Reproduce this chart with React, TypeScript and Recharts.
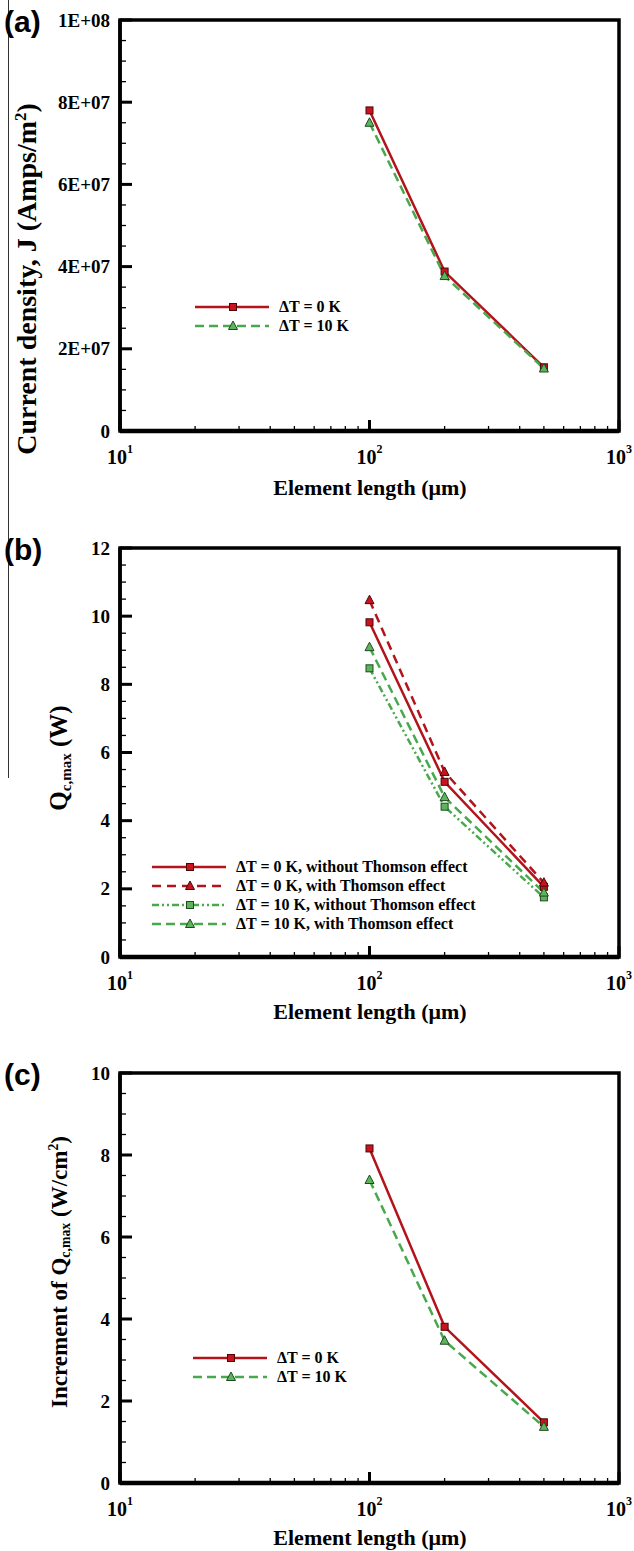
import React from 'react';
import { LineChart, Line, XAxis, YAxis, ReferenceArea } from 'recharts';

// element length (um) shared by every panel
const elementLength = [100, 200, 500];

// (a) current density, A/m^2
const currentDt0 = [7.8e7, 3.88e7, 1.55e7];
const currentDt10 = [7.5e7, 3.77e7, 1.52e7];

// (b) Qc,max (W)
const qmaxDt0Without = [9.82, 5.14, 2.06];
const qmaxDt0With = [10.47, 5.43, 2.18];
const qmaxDt10Without = [8.47, 4.41, 1.75];
const qmaxDt10With = [9.09, 4.69, 1.89];

// (c) increment of Qc,max (W/cm^2)
const incrementDt0 = [8.16, 3.81, 1.48];
const incrementDt10 = [7.39, 3.47, 1.37];

const xTicks = [10, 20, 30, 40, 50, 60, 70, 80, 90, 100, 200, 300, 400, 500, 600, 700, 800, 900, 1000];
const xMajorTicks = [10, 100, 1000];
const xTickExponents = ['1', '2', '3'];

const currentTicks = [0, 5e6, 1e7, 1.5e7, 2e7, 2.5e7, 3e7, 3.5e7, 4e7, 4.5e7, 5e7, 5.5e7, 6e7, 6.5e7, 7e7, 7.5e7, 8e7, 8.5e7, 9e7, 9.5e7, 1e8];
const currentMajorTicks = [0, 2e7, 4e7, 6e7, 8e7, 1e8];
const currentTickLabels = ['0', '2E+07', '4E+07', '6E+07', '8E+07', '1E+08'];

const qmaxTicks = [0, 0.5, 1, 1.5, 2, 2.5, 3, 3.5, 4, 4.5, 5, 5.5, 6, 6.5, 7, 7.5, 8, 8.5, 9, 9.5, 10, 10.5, 11, 11.5, 12];
const qmaxMajorTicks = [0, 2, 4, 6, 8, 10, 12];
const qmaxTickLabels = ['0', '2', '4', '6', '8', '10', '12'];

const incrementTicks = [0, 0.5, 1, 1.5, 2, 2.5, 3, 3.5, 4, 4.5, 5, 5.5, 6, 6.5, 7, 7.5, 8, 8.5, 9, 9.5, 10];
const incrementMajorTicks = [0, 2, 4, 6, 8, 10];
const incrementTickLabels = ['0', '2', '4', '6', '8', '10'];

const SERIF = "'Liberation Serif', 'Times New Roman', serif";
const RED = '#b3141c';
const RED_FILL = '#c8141e';
const GREEN = '#48a84c';
const GREEN_FILL = '#5cb45c';

type Shape = 'square' | 'triangle';
type Series = { key: string; name: string; color: string; fill: string; dash?: string; shape: Shape; values: number[] };

function Marker({ shape, cx, cy, fill }: { shape: Shape; cx: number; cy: number; fill: string }) {
  const edge = fill === RED_FILL ? '#4a0808' : '#1f4a1f';
  if (shape === 'square') {
    return <rect x={cx - 3.5} y={cy - 3.5} width={7} height={7} fill={fill} stroke={edge} strokeWidth={1} />;
  }
  return (
    <polygon
      points={`${cx},${cy - 5} ${cx + 4.5},${cy + 3.5} ${cx - 4.5},${cy + 3.5}`}
      fill={fill}
      stroke={edge}
      strokeWidth={1}
    />
  );
}

const makeYTick = (majors: number[], labels: string[]) => (p: any) => {
  const v = p.payload.value;
  const i = majors.indexOf(v);
  return (
    <g key={`y-${v}`}>
      <line x1={p.x} x2={p.x + (i >= 0 ? 12 : 6)} y1={p.y} y2={p.y} stroke="#000" strokeWidth={i >= 0 ? 3 : 1.3} />
      {i >= 0 && (
        <text x={p.x - 10} y={p.y} textAnchor="end" dominantBaseline="central" fontFamily={SERIF} fontWeight="bold" fontSize={19} fill="#000">
          {labels[i]}
        </text>
      )}
    </g>
  );
};

const XTick = (p: any) => {
  const v = p.payload.value;
  const i = xMajorTicks.indexOf(v);
  return (
    <g key={`x-${v}`}>
      <line x1={p.x} x2={p.x} y1={p.y} y2={p.y - (i >= 0 ? 11 : 5)} stroke="#000" strokeWidth={i >= 0 ? 3 : 1.3} />
      {i >= 0 && (
        <text x={p.x} y={p.y + 26} textAnchor="middle" dominantBaseline="central" fontFamily={SERIF} fontWeight="bold" fontSize={20} fill="#000">
          10
          <tspan dy={-8} fontSize={12}>{xTickExponents[i]}</tspan>
        </text>
      )}
    </g>
  );
};

interface PanelProps {
  top: number;
  plotTop: number;
  plotBottom: number;
  series: Series[];
  yMax: number;
  yTicks: number[];
  yMajor: number[];
  yLabels: string[];
  legendLeft: number;
  legendTop: number;
  legendGap: number;
  panelLabel: string;
  panelLabelY: number;
  yTitle: React.ReactNode;
  yTitleX: number;
  yTitleY: number;
  yTitleSize: number;
  xTitleY: number;
}

function Panel(props: PanelProps) {
  const { top, plotTop, plotBottom, series, yMax } = props;
  const data = elementLength.map((x, i) => {
    const row: Record<string, number> = { x };
    series.forEach(s => { row[s.key] = s.values[i]; });
    return row;
  });
  const xAxisHeight = 60;

  return (
    <>
      <div style={{ position: 'absolute', left: 0, top }}>
        <LineChart
          width={634}
          height={plotBottom - top + xAxisHeight}
          data={data}
          margin={{ top: plotTop - top, right: 15, bottom: 0, left: 0 }}
        >
          <ReferenceArea x1={10} x2={1000} y1={0} y2={yMax} fill="#fff" fillOpacity={0} stroke="#000" strokeWidth={3.5} />
          <XAxis
            type="number"
            dataKey="x"
            scale="log"
            domain={[10, 1000]}
            allowDataOverflow
            ticks={xTicks}
            interval={0}
            tickSize={0}
            tickMargin={0}
            tickLine={false}
            tick={XTick}
            height={xAxisHeight}
            axisLine={{ stroke: '#000', strokeWidth: 4.5 }}
          />
          <YAxis
            type="number"
            domain={[0, yMax]}
            allowDataOverflow
            ticks={props.yTicks}
            interval={0}
            tickSize={0}
            tickMargin={0}
            tickLine={false}
            tick={makeYTick(props.yMajor, props.yLabels)}
            width={120}
            axisLine={{ stroke: '#000', strokeWidth: 3.5 }}
          />
          {series.map(s => (
            <Line
              key={s.key}
              type="linear"
              dataKey={s.key}
              stroke={s.color}
              strokeWidth={2.5}
              strokeDasharray={s.dash}
              isAnimationActive={false}
              dot={(d: any) => <Marker key={`${s.key}-${d.index}`} shape={s.shape} cx={d.cx} cy={d.cy} fill={s.fill} />}
              activeDot={false}
            />
          ))}
        </LineChart>
      </div>

      {/* legend */}
      <div style={{ position: 'absolute', left: props.legendLeft, top: props.legendTop - 10 }}>
        {series.map(s => (
          <div key={s.key} style={{ display: 'flex', alignItems: 'center', height: props.legendGap }}>
            <svg width={74} height={14} style={{ display: 'block' }}>
              <line x1={0} x2={74} y1={7} y2={7} stroke={s.color} strokeWidth={2.5} strokeDasharray={s.dash} />
              <Marker shape={s.shape} cx={38} cy={7} fill={s.fill} />
            </svg>
            <span style={{ marginLeft: 10, fontFamily: SERIF, fontWeight: 'bold', fontSize: 16, whiteSpace: 'nowrap', lineHeight: 1 }}>
              {s.name}
            </span>
          </div>
        ))}
      </div>

      {/* panel label */}
      <div
        style={{
          position: 'absolute', left: 4, top: props.panelLabelY - 17,
          fontFamily: "'Liberation Sans', Arial, sans-serif", fontWeight: 'bold', fontSize: 30, lineHeight: 1,
        }}
      >
        {props.panelLabel}
      </div>

      {/* y title */}
      <div
        style={{
          position: 'absolute', left: props.yTitleX, top: props.yTitleY,
          transform: 'translate(-50%, -50%) rotate(-90deg)',
          fontFamily: SERIF, fontWeight: 'bold', fontSize: props.yTitleSize, whiteSpace: 'nowrap', lineHeight: 1,
        }}
      >
        {props.yTitle}
      </div>

      {/* x title */}
      <div
        style={{
          position: 'absolute', left: 370, top: props.xTitleY,
          transform: 'translate(-50%, -50%)',
          fontFamily: SERIF, fontWeight: 'bold', fontSize: 22, whiteSpace: 'nowrap', lineHeight: 1,
        }}
      >
        Element length (μm)
      </div>
    </>
  );
}

const sub: React.CSSProperties = { fontSize: '0.6em', verticalAlign: '-0.25em' };
const sup: React.CSSProperties = { fontSize: '0.6em', verticalAlign: '0.6em' };

export default function App() {
  const seriesA: Series[] = [
    { key: 'dt0', name: 'ΔT = 0 K', color: RED, fill: RED_FILL, shape: 'square', values: currentDt0 },
    { key: 'dt10', name: 'ΔT = 10 K', color: GREEN, fill: GREEN_FILL, dash: '9 5', shape: 'triangle', values: currentDt10 },
  ];
  const seriesB: Series[] = [
    { key: 'dt0wo', name: 'ΔT = 0 K, without Thomson effect', color: RED, fill: RED_FILL, shape: 'square', values: qmaxDt0Without },
    { key: 'dt0w', name: 'ΔT = 0 K, with Thomson effect', color: RED, fill: RED_FILL, dash: '9 6', shape: 'triangle', values: qmaxDt0With },
    { key: 'dt10wo', name: 'ΔT = 10 K, without Thomson effect', color: GREEN, fill: GREEN_FILL, dash: '7 3 2 3 2 3', shape: 'square', values: qmaxDt10Without },
    { key: 'dt10w', name: 'ΔT = 10 K, with Thomson effect', color: GREEN, fill: GREEN_FILL, dash: '9 5', shape: 'triangle', values: qmaxDt10With },
  ];
  const seriesC: Series[] = [
    { key: 'dt0', name: 'ΔT = 0 K', color: RED, fill: RED_FILL, shape: 'square', values: incrementDt0 },
    { key: 'dt10', name: 'ΔT = 10 K', color: GREEN, fill: GREEN_FILL, dash: '9 5', shape: 'triangle', values: incrementDt10 },
  ];

  return (
    <div style={{ position: 'absolute', left: 0, top: 0, width: 634, height: 1551, background: '#fff', overflow: 'hidden' }}>
      {/* scan edge line on the left */}
      <div style={{ position: 'absolute', left: 8, top: 0, width: 1, height: 778, background: '#333' }} />

      <Panel
        top={0} plotTop={20} plotBottom={431}
        series={seriesA} yMax={1e8}
        yTicks={currentTicks} yMajor={currentMajorTicks} yLabels={currentTickLabels}
        legendLeft={195} legendTop={307} legendGap={19.3}
        panelLabel="(a)" panelLabelY={24}
        yTitle={<>Current density, J (Amps/m<span style={sup}>2</span>)</>}
        yTitleX={27} yTitleY={279} yTitleSize={28}
        xTitleY={488}
      />
      <Panel
        top={500} plotTop={548} plotBottom={957}
        series={seriesB} yMax={12}
        yTicks={qmaxTicks} yMajor={qmaxMajorTicks} yLabels={qmaxTickLabels}
        legendLeft={152} legendTop={867} legendGap={19.1}
        panelLabel="(b)" panelLabelY={552}
        yTitle={<>Q<span style={sub}>c,max</span> (W)</>}
        yTitleX={60} yTitleY={758} yTitleSize={25}
        xTitleY={1012}
      />
      <Panel
        top={1030} plotTop={1073} plotBottom={1483}
        series={seriesC} yMax={10}
        yTicks={incrementTicks} yMajor={incrementMajorTicks} yLabels={incrementTickLabels}
        legendLeft={193} legendTop={1359} legendGap={18.7}
        panelLabel="(c)" panelLabelY={1077}
        yTitle={<>Increment of Q<span style={sub}>c,max</span> (W/cm<span style={sup}>2</span>)</>}
        yTitleX={60} yTitleY={1272} yTitleSize={23}
        xTitleY={1538}
      />
    </div>
  );
}
